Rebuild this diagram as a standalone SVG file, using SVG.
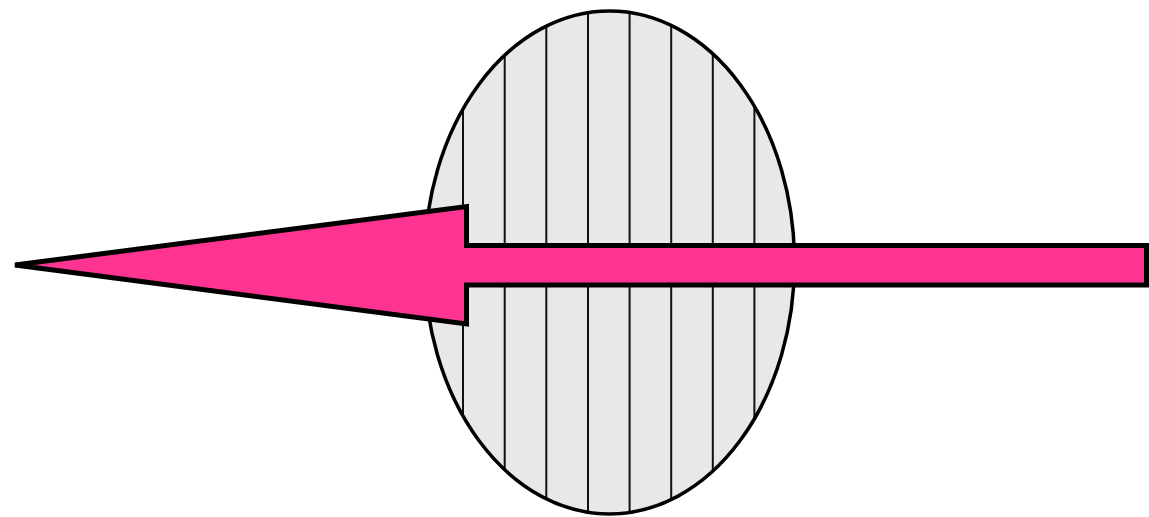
<svg xmlns="http://www.w3.org/2000/svg" width="1149" height="517" viewBox="0 0 1149 517">
  <style>
    .body { fill: #e8e8e8; }
    .outline { fill: none; stroke: #000; stroke-width: 3.5; }
    .hatch { stroke: #111; stroke-width: 2; }
    .arrow { fill: #ff3392; stroke: #000; stroke-width: 5; stroke-linejoin: miter; }
  </style>
  <defs>
    <clipPath id="ellClip">
      <ellipse cx="609.5" cy="262.5" rx="185" ry="251.5"/>
    </clipPath>
  </defs>
  <rect width="1149" height="517" fill="#fff"/>
  <g id="disc">
    <ellipse class="body" cx="609.5" cy="262.5" rx="185" ry="251.5"/>
    <g clip-path="url(#ellClip)">
      <line class="hatch" x1="463" y1="0" x2="463" y2="517"/>
      <line class="hatch" x1="504.7" y1="0" x2="504.7" y2="517"/>
      <line class="hatch" x1="546.3" y1="0" x2="546.3" y2="517"/>
      <line class="hatch" x1="588" y1="0" x2="588" y2="517"/>
      <line class="hatch" x1="629.6" y1="0" x2="629.6" y2="517"/>
      <line class="hatch" x1="671.2" y1="0" x2="671.2" y2="517"/>
      <line class="hatch" x1="712.8" y1="0" x2="712.8" y2="517"/>
      <line class="hatch" x1="754.4" y1="0" x2="754.4" y2="517"/>
    </g>
    <ellipse class="outline" cx="609.5" cy="262.5" rx="185" ry="251.5"/>
  </g>
  <g id="connectors">
    <path class="arrow" d="M 15 265 L 466.5 206.5 L 466.5 245.5 L 1146.5 245.5 L 1146.5 285 L 466.5 285 L 466.5 324 Z"/>
  </g>
</svg>
